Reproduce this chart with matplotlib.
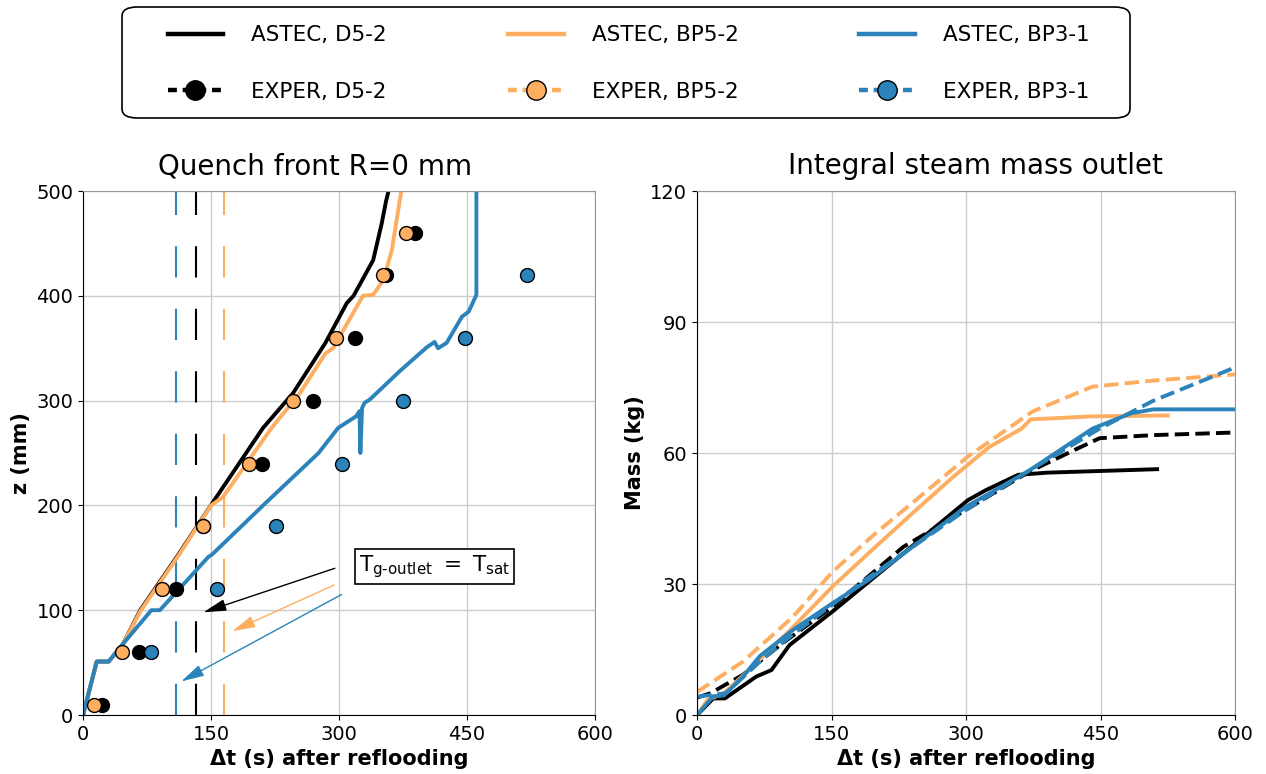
import matplotlib
matplotlib.use("Agg")
import matplotlib.pyplot as plt
from matplotlib.lines import Line2D
from matplotlib.patches import FancyBboxPatch

plt.rcParams['font.family'] = ['DejaVu Sans']

c_black = '#000000'
c_orange = '#fdae61'
c_blue = '#2b83ba'

# --- quench front, ASTEC (t in s, z in mm)
astec_d52_t = [0, 16, 30, 47, 67, 110, 153, 211, 246, 284, 309, 317, 340, 350, 355, 358]
astec_d52_z = [0, 51, 51, 68, 100, 151, 204, 274, 307, 355, 393, 400, 434, 469, 490, 500]
astec_bp52_t = [0, 16, 30, 47, 67, 110, 150, 164, 221, 254, 284, 293, 328, 340, 352, 362, 368, 373]
astec_bp52_z = [0, 51, 51, 68, 99, 150, 200, 208, 274, 307, 345, 350, 400, 401, 415, 444, 475, 500]
astec_bp31_t = [0, 16, 30, 47, 80, 90, 147, 151, 211, 276, 299, 320, 324, 325, 327, 330, 336,
                371, 403, 412, 416, 426, 444, 452, 461, 461]
astec_bp31_z = [0, 51, 51, 68, 100, 100, 151, 153, 200, 250, 274, 285, 290, 250, 293, 298, 301,
                328, 351, 356, 350, 355, 380, 385, 401, 500]

# --- quench front, experiment
exp_d52_z = [10, 60, 120, 180, 240, 300, 360, 420, 460]
exp_d52_t = [22, 66, 109, 140, 210, 269, 319, 355, 389]
exp_bp52_z = [10, 60, 120, 180, 240, 300, 360, 420, 460]
exp_bp52_t = [13, 46, 92, 140, 194, 246, 296, 351, 379]
exp_bp31_z = [60, 120, 180, 240, 300, 360, 420]
exp_bp31_t = [80, 157, 226, 303, 375, 448, 520]

# T_g-outlet = T_sat times
tsat_d52 = 132
tsat_bp52 = 165
tsat_bp31 = 109

# --- integral steam mass (kg)
m_astec_d52_t = [0, 18, 31, 66, 83, 103, 151, 230, 302, 322, 358, 390, 513]
m_astec_d52 = [0, 3.8, 3.8, 8.8, 10.3, 16.0, 23.7, 37.0, 49.2, 51.5, 55.0, 55.5, 56.3]
m_exp_d52_t = [0, 15, 51, 95, 151, 230, 300, 370, 425, 449, 509, 600]
m_exp_d52 = [4.0, 5.0, 9.2, 16.4, 24.8, 38.5, 47.0, 55.7, 61.1, 63.4, 64.1, 64.7]
m_astec_bp52_t = [0, 12, 30, 59, 104, 151, 191, 238, 286, 326, 362, 372, 441, 525]
m_astec_bp52 = [0, 3.5, 5.0, 10.5, 19.5, 29.4, 37.0, 45.8, 54.6, 61.4, 65.6, 67.7, 68.4, 68.6]
m_exp_bp52_t = [0, 51, 107, 151, 199, 246, 302, 374, 441, 509, 600]
m_exp_bp52 = [5.3, 12.2, 22.5, 32.8, 41.6, 49.6, 59.2, 69.5, 75.2, 76.6, 78.0]
m_astec_bp31_t = [0, 18, 30, 50, 70, 107, 151, 191, 300, 369, 441, 484, 509, 600]
m_astec_bp31 = [0, 4.3, 4.5, 8.5, 13.5, 19.5, 25.6, 30.9, 47.7, 55.8, 65.6, 69.1, 70.0, 70.0]
m_exp_bp31_t = [0, 32, 72, 107, 187, 300, 369, 449, 509, 600]
m_exp_bp31 = [4.2, 5.0, 12.6, 18.5, 30.9, 47.0, 55.8, 65.6, 72.0, 79.6]

xticks = [0, 150, 300, 450, 600]

fig = plt.figure(figsize=(12.66, 7.74), dpi=100)
ax1 = fig.add_axes([0.0656, 0.0762, 0.4044, 0.677])
ax2 = fig.add_axes([0.5506, 0.0762, 0.425, 0.677])

lw = 2.8

# left: quench front
ax1.plot([tsat_bp31, tsat_bp31], [0, 500], color=c_blue, lw=1.5, dashes=(15, 15))
ax1.plot([tsat_d52, tsat_d52], [0, 500], color=c_black, lw=1.5, dashes=(15, 15))
ax1.plot([tsat_bp52, tsat_bp52], [0, 500], color=c_orange, lw=1.5, dashes=(15, 15))

ax1.plot(astec_d52_t, astec_d52_z, color=c_black, lw=lw)
ax1.plot(astec_bp52_t, astec_bp52_z, color=c_orange, lw=lw)
ax1.plot(astec_bp31_t, astec_bp31_z, color=c_blue, lw=lw)
ax1.plot(exp_d52_t, exp_d52_z, 'o', color=c_black, mec='k', ms=10)
ax1.plot(exp_bp52_t, exp_bp52_z, 'o', color=c_orange, mec='k', ms=10)
ax1.plot(exp_bp31_t, exp_bp31_z, 'o', color=c_blue, mec='k', ms=10)

ax1.text(412, 142, r'$\mathregular{T_{g‐outlet}\ =\ T_{sat}}$', fontsize=15.5,
         ha='center', va='center',
         bbox=dict(boxstyle='square,pad=0.2', fc='white', ec='black', lw=1.2))
arrow_kw = dict(arrowstyle='-|>,head_length=0.7,head_width=0.18', lw=1,
                mutation_scale=20, shrinkA=0, shrinkB=0)
ax1.annotate('', xy=(141, 98), xytext=(295, 140),
             arrowprops=dict(color=c_black, **arrow_kw))
ax1.annotate('', xy=(175, 80), xytext=(294, 124),
             arrowprops=dict(color=c_orange, **arrow_kw))
ax1.annotate('', xy=(115, 32), xytext=(303, 115),
             arrowprops=dict(color=c_blue, **arrow_kw))

ax1.set_xlim(0, 600)
ax1.set_ylim(0, 500)
ax1.set_xticks(xticks)
ax1.set_yticks([0, 100, 200, 300, 400, 500])
ax1.set_title('Quench front R=0 mm', fontsize=20, pad=12, x=0.453)
ax1.set_xlabel('Δt (s) after reflooding', fontsize=15, fontweight='bold')
ax1.set_ylabel('z (mm)', fontsize=15, fontweight='bold')

# right: steam mass
ax2.plot(m_astec_d52_t, m_astec_d52, color=c_black, lw=lw)
ax2.plot(m_exp_d52_t, m_exp_d52, '--', color=c_black, lw=lw)
ax2.plot(m_astec_bp52_t, m_astec_bp52, color=c_orange, lw=lw)
ax2.plot(m_exp_bp52_t, m_exp_bp52, '--', color=c_orange, lw=lw)
ax2.plot(m_astec_bp31_t, m_astec_bp31, color=c_blue, lw=lw)
ax2.plot(m_exp_bp31_t, m_exp_bp31, '--', color=c_blue, lw=lw)

ax2.set_xlim(0, 600)
ax2.set_ylim(0, 120)
ax2.set_xticks(xticks)
ax2.set_yticks([0, 30, 60, 90, 120])
ax2.set_title('Integral steam mass outlet', fontsize=20, pad=12, x=0.518)
ax2.set_xlabel('Δt (s) after reflooding', fontsize=15, fontweight='bold')
ax2.set_ylabel('Mass (kg)', fontsize=15, fontweight='bold')

for ax in (ax1, ax2):
    ax.grid(True, color='#cccccc', lw=1)
    ax.set_axisbelow(True)
    ax.tick_params(labelsize=14)
    ax.spines['top'].set_color('#999999')
    ax.spines['right'].set_color('#999999')

handles = [
    Line2D([], [], color=c_black, lw=3.2),
    Line2D([], [], color=c_black, lw=3.2, dashes=(2, 1.3), marker='o', ms=14, mec='k'),
    Line2D([], [], color=c_orange, lw=3.2),
    Line2D([], [], color=c_orange, lw=3.2, dashes=(2, 1.3), marker='o', ms=14, mec='k'),
    Line2D([], [], color=c_blue, lw=3.2),
    Line2D([], [], color=c_blue, lw=3.2, dashes=(2, 1.3), marker='o', ms=14, mec='k'),
]
labels = ['ASTEC, D5-2', 'EXPER, D5-2', 'ASTEC, BP5-2', 'EXPER, BP5-2',
          'ASTEC, BP3-1', 'EXPER, BP3-1']
fig.legend(handles, labels, loc='center', bbox_to_anchor=(0.4965, 0.918),
           ncol=3, fontsize=15.5, handlelength=2.6, handletextpad=1.3,
           columnspacing=5.6, borderpad=0.5, labelspacing=1.7, frameon=False)

# legend frame (wider than the legend content, as in the original)
frame = FancyBboxPatch((122 / 1266, 1 - 118 / 774), 1008 / 1266, 111 / 774,
                       boxstyle='round,pad=0,rounding_size=0.012',
                       transform=fig.transFigure, fc='white', ec='black', lw=1.2,
                       zorder=-1)
fig.patches.append(frame)

fig.savefig('out.png', dpi=100)
